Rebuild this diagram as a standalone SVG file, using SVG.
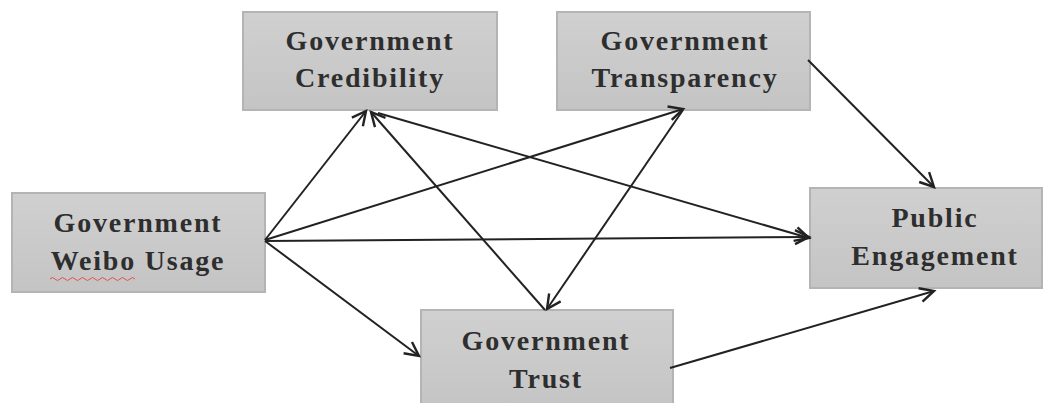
<svg xmlns="http://www.w3.org/2000/svg" width="1048" height="403" viewBox="0 0 1048 403">
<style>
.box{fill:url(#g);stroke:#b4b4b4;stroke-width:2}
.t{font-family:"Liberation Serif","Times New Roman",serif;font-weight:bold;font-size:28px;letter-spacing:1.8px;fill:#2e2e2e;text-anchor:middle}
.c{stroke:#222;stroke-width:2;fill:none;marker-end:url(#a)}
</style>
<defs>
<linearGradient id="g" x1="0" y1="0" x2="0" y2="1">
<stop offset="0" stop-color="#d0d0d0"/>
<stop offset="1" stop-color="#c4c4c4"/>
</linearGradient>
<marker id="a" markerUnits="userSpaceOnUse" markerWidth="20" markerHeight="20" refX="15" refY="8" orient="auto" viewBox="0 0 20 16">
<path d="M1,1 L15,8 L1,15" fill="none" stroke="#222" stroke-width="2.4"/>
</marker>
</defs>
<g id="credibility">
<rect class="box" x="243" y="12" width="254" height="98"/>
<text class="t" x="370" y="50">Government</text>
<text class="t" x="370" y="87">Credibility</text>
</g>
<g id="transparency">
<rect class="box" x="557" y="12" width="253" height="98"/>
<text class="t" x="685" y="50">Government</text>
<text class="t" x="685" y="87">Transparency</text>
</g>
<g id="weibo">
<rect class="box" x="12" y="193" width="253" height="99"/>
<text class="t" x="138" y="232">Government</text>
<text class="t" x="138" y="270">Weibo Usage</text>
<path d="M50,279 q2.5,-3 5,0 t5,0 t5,0 t5,0 t5,0 t5,0 t5,0 t5,0 t5,0 t5,0 t5,0 t5,0 t5,0 t5,0 t5,0 t5,0 t5,0" fill="none" stroke="#e05050" stroke-width="1"/>
</g>
<g id="public">
<rect class="box" x="810" y="188" width="232" height="100"/>
<text class="t" x="935" y="227">Public</text>
<text class="t" x="935" y="265">Engagement</text>
</g>
<g id="trust">
<rect class="box" x="421" y="310" width="252" height="100"/>
<text class="t" x="546" y="350">Government</text>
<text class="t" x="546" y="388">Trust</text>
</g>
<g id="connectors">
<line class="c" x1="265" y1="240" x2="366" y2="111"/>
<line class="c" x1="545" y1="310" x2="371" y2="112"/>
<line class="c" x1="378" y1="113" x2="809" y2="238"/>
<line class="c" x1="265" y1="240" x2="683" y2="109"/>
<line class="c" x1="683" y1="110" x2="547" y2="309"/>
<line class="c" x1="265" y1="241" x2="809" y2="237"/>
<line class="c" x1="265" y1="241" x2="419" y2="356"/>
<line class="c" x1="808" y1="60" x2="934" y2="187"/>
<line class="c" x1="670" y1="368" x2="934" y2="291"/>
</g>
</svg>
